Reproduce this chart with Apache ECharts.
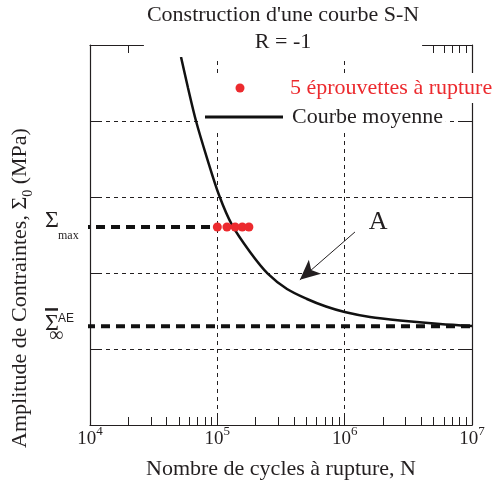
<!DOCTYPE html>
<html><head><meta charset="utf-8">
<script src="https://cdn.jsdelivr.net/npm/echarts@6/dist/echarts.min.js"></script>
<style>html,body{margin:0;padding:0;background:#fff}#c{width:496px;height:488px}</style>
</head><body><div id="c"></div>
<script>
// ---- data ----
const X_EXPONENTS = [4, 5, 6, 7];
const MINOR_MULT = [1, 2, 3, 4, 5, 6, 7, 8, 9];
const CURVE_N = [51850, 58860, 68010, 82950, 103060, 130400, 180600, 250000, 352500, 506000, 713600, 1000000, 1581000, 2720000, 5607000, 10000000];
const CURVE_S = [4.842, 4.434, 4.000, 3.513, 3.026, 2.632, 2.276, 1.987, 1.789, 1.658, 1.559, 1.487, 1.421, 1.375, 1.329, 1.303];
const SPECIMEN_N = [100000, 119000, 138000, 157000, 177000];
const SIGMA_MAX = 2.605;
const SIGMA_INF = 1.30;
const SIGMA_MAX_LINE_N = [8500, 100000];
const SIGMA_INF_LINE_N = [9300, 10000000];
const ARROW_FROM = [1205000, 2.54];
const ARROW_TO = [445000, 1.91];
const LABEL_A = [1830000, 2.67];
const Y_MIN = 0, Y_MAX = 5, Y_STEP = 1;

const SERIF = '"Liberation Serif", "Times New Roman", serif';
const INK = '#231f20';
const RED = '#ec2a2e';

const MINOR_LOG = [];
for (let e = X_EXPONENTS[0]; e < X_EXPONENTS[X_EXPONENTS.length - 1]; e++) {
  MINOR_MULT.forEach(m => { if (!(m === 1 && e === X_EXPONENTS[0])) MINOR_LOG.push(e + Math.log10(m)); });
}

const chart = echarts.init(document.getElementById('c'), null, {renderer: 'canvas'});

const tickAxis = (pos) => ({
  type: 'value', min: X_EXPONENTS[0], max: X_EXPONENTS[X_EXPONENTS.length - 1], position: pos,
  axisLine: {show: pos === 'top', lineStyle: {color: INK, width: 1.2}},
  axisTick: {show: true, inside: true, length: 8, customValues: MINOR_LOG, lineStyle: {color: INK, width: 1}},
  axisLabel: {show: false}, splitLine: {show: false}
});

const option = {
  animation: false,
  backgroundColor: '#fff',
  title: {
    text: "Construction d'une courbe S-N\nR = -1",
    left: 280, top: 0, textAlign: 'center',
    padding: [2, 3, 1, 3],
    backgroundColor: '#fff',
    textStyle: {fontFamily: SERIF, fontSize: 22, fontWeight: 'normal', color: INK, lineHeight: 27}
  },
  legend: [
    {
      data: ['5 éprouvettes à rupture'], left: 194.5, top: 73, orient: 'vertical',
      padding: [3, 0, 3, 41], backgroundColor: '#fff', selectedMode: false,
      itemWidth: 90, itemHeight: 9, icon: 'circle',
      textStyle: {fontFamily: SERIF, fontSize: 22, color: RED, lineHeight: 24}
    },
    {
      data: ['Courbe moyenne'], left: 202, top: 102, orient: 'vertical',
      padding: [3, 3, 3, 3], backgroundColor: '#fff', selectedMode: false,
      itemWidth: 78, itemHeight: 3, icon: 'rect',
      textStyle: {fontFamily: SERIF, fontSize: 22, color: INK, lineHeight: 24, padding: [0, 0, 0, 4]}
    }
  ],
  grid: {left: 90, right: 24, top: 45, bottom: 63, outerBoundsMode: 'none', containLabel: false},
  xAxis: [
    {
      type: 'log', logBase: 10, min: Math.pow(10, X_EXPONENTS[0]), max: Math.pow(10, X_EXPONENTS[X_EXPONENTS.length - 1]),
      splitNumber: 3, position: 'bottom',
      axisLine: {show: true, lineStyle: {color: INK, width: 1.2}},
      axisTick: {show: false},
      splitLine: {show: true, lineStyle: {color: INK, width: 1, type: [4, 4]}},
      axisLabel: {
        margin: 0,
        formatter: v => '{b|10}{s|' + Math.round(Math.log10(v)) + '}',
        rich: {
          b: {fontFamily: SERIF, fontSize: 19, color: INK, lineHeight: 28},
          s: {fontFamily: SERIF, fontSize: 13, color: INK, lineHeight: 14, verticalAlign: 'top'}
        }
      },
      name: 'Nombre de cycles à rupture, N', nameLocation: 'middle', nameGap: 33,
      nameTextStyle: {fontFamily: SERIF, fontSize: 22, color: INK, lineHeight: 22}
    },
    tickAxis('bottom'),
    tickAxis('top')
  ],
  yAxis: [
    {
      type: 'value', min: Y_MIN, max: Y_MAX, interval: Y_STEP, position: 'left',
      axisLine: {show: true, lineStyle: {color: INK, width: 1.2}},
      axisTick: {show: true, inside: true, length: 12, lineStyle: {color: INK, width: 1}},
      axisLabel: {show: false},
      splitLine: {show: true, lineStyle: {color: INK, width: 1, type: [4, 4]}},
      name: '{a|Amplitude de Contraintes, Σ}{sub|0}{a| (MPa)}',
      nameLocation: 'middle', nameRotate: 90, nameGap: 55,
      nameTextStyle: {
        padding: [0, 106, 0, 0],
        rich: {
          a: {fontFamily: SERIF, fontSize: 22, color: INK, lineHeight: 30},
          sub: {fontFamily: SERIF, fontSize: 14, color: INK, lineHeight: 16, verticalAlign: 'bottom'}
        }
      }
    },
    {
      type: 'value', min: Y_MIN, max: Y_MAX, interval: Y_STEP, position: 'right',
      axisLine: {show: true, lineStyle: {color: INK, width: 1.2}},
      axisTick: {show: true, inside: true, length: 10, lineStyle: {color: INK, width: 1}},
      axisLabel: {show: false}, splitLine: {show: false}
    }
  ],
  series: [
    {
      type: 'line', name: 'smax', data: SIGMA_MAX_LINE_N.map(n => [n, SIGMA_MAX]),
      symbol: 'none', clip: false, silent: true, z: 2,
      lineStyle: {color: '#111', width: 4, type: [9, 6]}
    },
    {
      type: 'line', name: 'sinf', data: SIGMA_INF_LINE_N.map(n => [n, SIGMA_INF]),
      symbol: 'none', clip: false, silent: true, z: 2,
      lineStyle: {color: '#111', width: 4, type: [9, 6]}
    },
    {
      type: 'line', name: 'Courbe moyenne', data: CURVE_N.map((n, i) => [n, CURVE_S[i]]),
      smooth: 0.3, symbol: 'none', silent: true, z: 3, clip: false,
      lineStyle: {color: '#111', width: 2.5},
      itemStyle: {color: '#111'},
      markLine: {
        silent: true, animation: false, symbol: ['none', 'arrow'], symbolSize: [14, 20],
        lineStyle: {color: INK, width: 1, type: 'solid'}, label: {show: false},
        data: [[{coord: ARROW_FROM}, {coord: ARROW_TO}]]
      },
      markPoint: {
        silent: true, animation: false, symbol: 'circle', symbolSize: 1,
        itemStyle: {color: 'rgba(0,0,0,0)'},
        label: {show: true, position: 'inside', formatter: 'A', fontFamily: SERIF, fontSize: 26, color: INK},
        data: [{coord: LABEL_A}]
      }
    },
    {
      type: 'scatter', name: '5 éprouvettes à rupture', data: SPECIMEN_N.map(n => [n, SIGMA_MAX]),
      symbol: 'circle', symbolSize: 9, z: 4, silent: true,
      itemStyle: {color: RED, opacity: 1}
    }
  ]
};
chart.setOption(option);

const yMax = chart.convertToPixel({yAxisIndex: 0}, SIGMA_MAX);
const yInf = chart.convertToPixel({yAxisIndex: 0}, SIGMA_INF);
const txt = (x, y, text, font) => ({type: 'text', x: x, y: y, silent: true,
  style: {text: text, font: font, fill: INK, align: 'left', verticalAlign: 'middle'}});
chart.setOption({
  graphic: [
    txt(45, yMax - 6, 'Σ', '24px ' + SERIF),
    txt(58, yMax + 9, 'max', '12px ' + SERIF),
    {type: 'rect', x: 45, y: yInf - 18, shape: {width: 13, height: 2.5}, style: {fill: INK}, silent: true},
    txt(45, yInf - 2, 'Σ', '24px ' + SERIF),
    txt(58, yInf - 8, 'AE', '12px "Liberation Sans", Arial, sans-serif'),
    txt(49, yInf + 10, '∞', '20px ' + SERIF)
  ]
});
</script>
</body></html>
